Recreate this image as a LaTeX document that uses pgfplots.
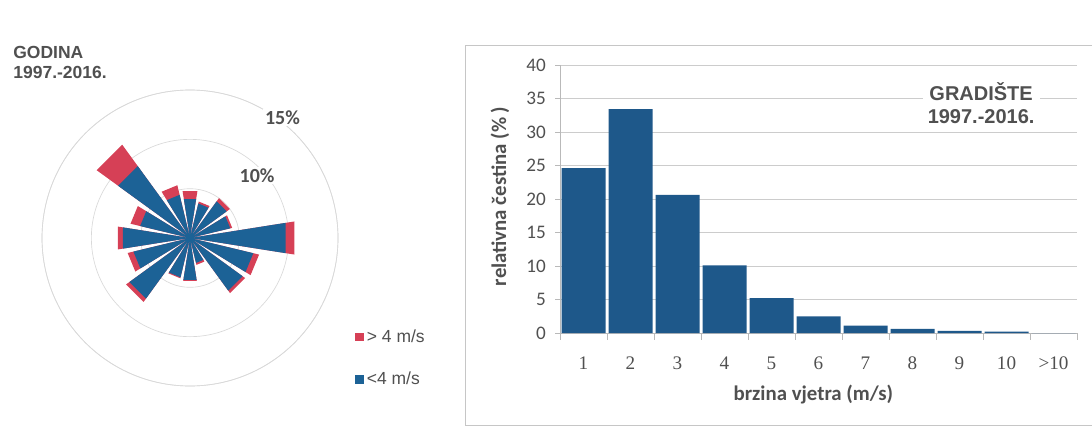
\documentclass[border=0pt]{standalone}
\usepackage{pgfplots}
\pgfplotsset{compat=1.18}
\usepgfplotslibrary{polar}
\usepackage{fontspec}
\setmainfont{Liberation Sans}
\newfontfamily\carlito{Carlito}
\newfontfamily\serifnum{Liberation Serif}
\definecolor{barblue}{RGB}{30,88,138}
\definecolor{roseblue}{RGB}{28,98,150}
\definecolor{rosered}{RGB}{214,64,86}
\definecolor{txt}{RGB}{80,80,80}

\begin{document}
\begin{tikzpicture}
\path[use as bounding box] (0,0) rectangle (655.2pt,263.4pt);
% frame of the histogram
\draw[gray!45, line width=0.6pt] (279pt,8.4pt) rectangle (660pt,236.4pt);

% title of the rose
\node[anchor=north west, align=left, inner sep=0pt, text=txt,
      font=\fontsize{10.5}{11}\selectfont\bfseries] at (7.8pt,236pt)
      {GODINA\\[1pt]1997.-2016.};

% wind rose
\begin{polaraxis}[
    at={(114pt,120.6pt)}, anchor=center,
    scale only axis, width=177.6pt, height=177.6pt,
    ymin=0, ymax=15, clip=false,
    xtick=\empty, ytick={5,10,15}, yticklabels={},
    ymajorgrids, grid style={gray!30, line width=0.4pt},
    separate axis lines,
    x axis line style={gray!30, line width=0.4pt},
    y axis line style={draw=none},
    major tick length=0pt,
    legend style={at={(axis description cs:1.04,0.215)}, anchor=north west,
                  draw=none, fill=none, row sep=12.5pt,
                  font=\fontsize{10.5}{11}\selectfont\color{txt}},
    legend cell align=left,
    legend image code/.code={\fill[#1] (0pt,-2.5pt) rectangle (5pt,2.5pt);},
]
% > 4 m/s (drawn as total length, sits behind the blue part)
\addplot[fill=rosered, draw=none, mark=none] coordinates {
 (0,0) (81,4.8) (99,4.8) (0,0)
 (58.5,3.8) (76.5,3.8) (0,0)
 (36,5.0) (54,5.0) (0,0)
 (13.5,4.4) (31.5,4.4) (0,0)
 (-9,10.7) (9,10.7) (0,0)
 (-31.5,7.2) (-13.5,7.2) (0,0)
 (-54,6.9) (-36,6.9) (0,0)
 (-76.5,2.8) (-58.5,2.8) (0,0)
 (-99,4.4) (-81,4.4) (0,0)
 (-121.5,4.2) (-103.5,4.2) (0,0)
 (-144,8.0) (-126,8.0) (0,0)
 (-166.5,6.5) (-148.5,6.5) (0,0)
 (171,7.4) (189,7.4) (0,0)
 (148.5,6.2) (166.5,6.2) (0,0)
 (126,11.7) (144,11.7) (0,0)
 (103.5,5.5) (121.5,5.5) (0,0)
};
% < 4 m/s
\addplot[fill=roseblue, draw=none, mark=none] coordinates {
 (0,0) (81,4.0) (99,4.0) (0,0)
 (58.5,3.6) (76.5,3.6) (0,0)
 (36,4.6) (54,4.6) (0,0)
 (13.5,4.2) (31.5,4.2) (0,0)
 (-9,9.8) (9,9.8) (0,0)
 (-31.5,6.6) (-13.5,6.6) (0,0)
 (-54,6.6) (-36,6.6) (0,0)
 (-76.5,2.6) (-58.5,2.6) (0,0)
 (-99,4.3) (-81,4.3) (0,0)
 (-121.5,4.1) (-103.5,4.1) (0,0)
 (-144,7.6) (-126,7.6) (0,0)
 (-166.5,5.9) (-148.5,5.9) (0,0)
 (171,6.9) (189,6.9) (0,0)
 (148.5,5.2) (166.5,5.2) (0,0)
 (126,9.0) (144,9.0) (0,0)
 (103.5,4.5) (121.5,4.5) (0,0)
};
\legend{> 4 m/s, <4 m/s}
\node[fill=white, inner sep=1pt, text=txt, font=\carlito\fontsize{12}{12}\selectfont\bfseries]
     at (axis cs:43,9.3) {10\%};
\node[fill=white, inner sep=1pt, text=txt, font=\carlito\fontsize{12}{12}\selectfont\bfseries]
     at (axis cs:52.5,15.4) {15\%};
\end{polaraxis}

% histogram of wind speed
\begin{axis}[
    at={(336pt,63.6pt)}, anchor=south west,
    scale only axis, width=310.2pt, height=160.8pt,
    ybar, bar width=26.4pt, bar shift=0pt,
    xmin=0.5, xmax=11.5, ymin=0, ymax=40,
    xtick={1,...,11},
    xticklabels={1,2,3,4,5,6,7,8,9,10,>10},
    minor xtick={0.5,1.5,...,11.5},
    ytick={0,5,...,40},
    axis x line*=bottom, axis y line*=left,
    axis line style={gray!55, line width=0.6pt, -},
    tick align=outside,
    major tick length=3pt, minor tick length=4pt,
    major x tick style={draw=none}, minor x tick style={gray!55},
    ytick style={gray!55},
    ymajorgrids, grid style={gray!40, line width=0.5pt},
    /pgf/number format/assume math mode=true,
    yticklabel style={font=\carlito\fontsize{11.5}{12}\selectfont, text=txt, xshift=-2pt},
    xticklabel style={font=\serifnum\fontsize{11.5}{12}\selectfont, text=txt, yshift=-8pt},
    xlabel={brzina vjetra (m/s)},
    ylabel={relativna čestina (\% )},
    xlabel style={at={(axis description cs:0.49,-0.23)}, anchor=center,
                  font=\carlito\fontsize{12.5}{13}\selectfont\bfseries, text=txt},
    ylabel style={at={(axis description cs:-0.116,0.51)}, anchor=center,
                  font=\carlito\fontsize{12.5}{13}\selectfont\bfseries, text=txt},
]
\addplot[fill=barblue, draw=none] coordinates {
 (1,24.6) (2,33.4) (3,20.6) (4,10.1) (5,5.2) (6,2.5)
 (7,1.1) (8,0.6) (9,0.3) (10,0.2) (11,0)
};
\node[fill=white, align=center, inner sep=3pt, text=txt,
      font=\fontsize{12}{14}\selectfont\bfseries]
     at (axis cs:9.46,34.3) {GRADIŠTE\\1997.-2016.};
\end{axis}
\end{tikzpicture}
\end{document}
